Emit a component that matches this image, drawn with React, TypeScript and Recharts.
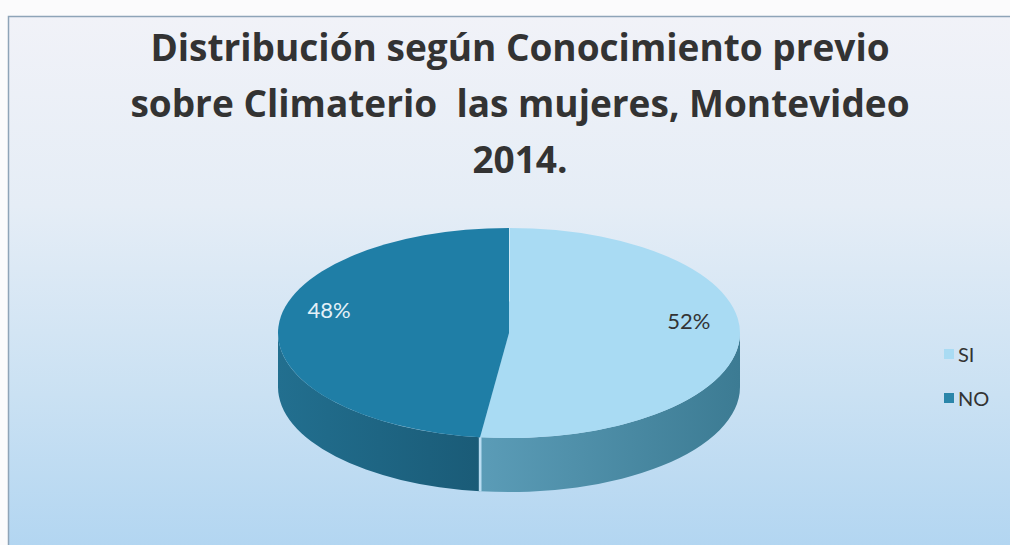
import React from 'react';
import { PieChart, Pie, Legend } from 'recharts';

const categories = ['SI', 'NO'];
const values = [52, 48];
const percentLabels = ['52%', '48%'];
const titleLines = [
  'Distribución según Conocimiento previo',
  'sobre Climaterio  las mujeres, Montevideo',
  '2014.',
];

const topColors = ['#a9dbf3', '#1f7ea6'];
const sideGrad = [
  ['#5b9cb7', '#3c7b93'],
  ['#226f8f', '#1a5b77'],
];
const labelColors = ['#333333', '#e4f1f8'];
const legendColors = ['#a9dbf3', '#2a86aa'];

const data = categories.map((name, i) => ({ name, value: values[i] }));

const RAD = Math.PI / 180;
const K = 0.455;
const DEPTH = 54;

const renderSlice = (props: any) => {
  const { cx, cy, outerRadius, startAngle, endAngle, midAngle, index } = props;
  const rx = outerRadius;
  const ry = outerRadius * K;
  const pt = (a: number, dy = 0) => [cx + rx * Math.cos(a * RAD), cy - ry * Math.sin(a * RAD) + dy];
  const s = Math.max(startAngle, endAngle);
  const e = Math.min(startAngle, endAngle);
  const [x1, y1] = pt(s);
  const [x2, y2] = pt(e);
  const large = s - e > 180 ? 1 : 0;
  const top = `M${cx},${cy} L${x1},${y1} A${rx},${ry} 0 ${large} 1 ${x2},${y2} Z`;
  const sides: string[] = [];
  const edges: number[] = [];
  for (const k of [-1, 0, 1]) {
    const lo = -180 + 360 * k;
    const hi = 360 * k;
    const a1 = Math.min(s, hi);
    const a2 = Math.max(e, lo);
    if (a1 > a2) {
      const [ax, ay] = pt(a1);
      const [bx, by] = pt(a2);
      sides.push(
        `M${ax},${ay} A${rx},${ry} 0 0 1 ${bx},${by} L${bx},${by + DEPTH} A${rx},${ry} 0 0 0 ${ax},${ay + DEPTH} Z`
      );
      if (a1 === s) edges.push(a1);
      if (a2 === e) edges.push(a2);
    }
  }
  const f = 0.78;
  const lx = cx + rx * f * Math.cos(midAngle * RAD);
  const ly = cy - ry * f * Math.sin(midAngle * RAD) - 18;
  const gid = `sideGrad${index}`;
  const showTopLine = Math.sin(s * RAD) > 0;
  const [tx, ty] = pt(s);
  return (
    <g>
      <defs>
        <linearGradient id={gid} x1="0" y1="0" x2="1" y2="0">
          <stop offset="0%" stopColor={sideGrad[index][0]} />
          <stop offset="100%" stopColor={sideGrad[index][1]} />
        </linearGradient>
      </defs>
      {sides.map((d, i) => (
        <path key={i} d={d} fill={`url(#${gid})`} stroke="none" />
      ))}
      {edges.map((a, i) => {
        const [ex, ey] = pt(a);
        return <line key={`e${i}`} x1={ex} y1={ey} x2={ex} y2={ey + DEPTH} stroke="#b9dcf1" strokeWidth={2.5} />;
      })}
      <path d={top} fill={topColors[index]} stroke="none" />
      {showTopLine && (
        <line x1={tx} y1={ty} x2={cx + (tx - cx) * 0.3} y2={cy + (ty - cy) * 0.3} stroke="#e6f3fa" strokeWidth={1.5} opacity={0.85} />
      )}
      <text x={lx} y={ly} textAnchor="middle" dominantBaseline="central" fill={labelColors[index]} fontFamily="Lato" fontSize={22}>
        {percentLabels[index]}
      </text>
    </g>
  );
};

const renderLegend = () => (
  <div style={{ fontFamily: 'Lato', fontSize: 20, color: '#333' }}>
    {categories.map((c, i) => (
      <div key={c} style={{ display: 'flex', alignItems: 'center', height: 22, marginBottom: 22 }}>
        <span style={{ display: 'inline-block', width: 10, height: 10, background: legendColors[i], marginRight: 4 }} />
        {c}
      </div>
    ))}
  </div>
);

export default function App() {
  return (
    <div style={{ position: 'absolute', left: 0, top: 0, width: 1010, height: 545, background: '#fbfbfc', overflow: 'hidden' }}>
      <svg width={1010} height={545} style={{ position: 'absolute', left: 0, top: 0 }}>
        <defs>
          <linearGradient id="bg" x1="0" y1="0" x2="0" y2="1">
            <stop offset="0%" stopColor="#f1f2f8" />
            <stop offset="35%" stopColor="#e5edf6" />
            <stop offset="70%" stopColor="#cae1f3" />
            <stop offset="100%" stopColor="#b1d5f1" />
          </linearGradient>
        </defs>
        <rect x={8.5} y={16.5} width={1010} height={540} fill="url(#bg)" stroke="#8ea4b8" strokeWidth={1.5} />
        {titleLines.map((t, i) => (
          <text key={i} x={520} y={61 + i * 56} textAnchor="middle" fontFamily="Open Sans" fontWeight={700} fontSize={37} fill="#333" style={{ whiteSpace: 'pre' }}>
            {t}
          </text>
        ))}
      </svg>
      <div style={{ position: 'absolute', left: 0, top: 0 }}>
        <PieChart width={1010} height={545} margin={{ top: 0, right: 0, bottom: 0, left: 0 }}>
          <Pie
            data={data}
            dataKey="value"
            nameKey="name"
            cx={509}
            cy={333}
            outerRadius={231}
            startAngle={90}
            endAngle={-270}
            fill="transparent"
            stroke="none"
            label={renderSlice}
            labelLine={false}
            isAnimationActive={false}
          />
          <Legend
            content={renderLegend}
            wrapperStyle={{ position: 'absolute', left: 944, top: 343, width: 66 }}
          />
        </PieChart>
      </div>
    </div>
  );
}
